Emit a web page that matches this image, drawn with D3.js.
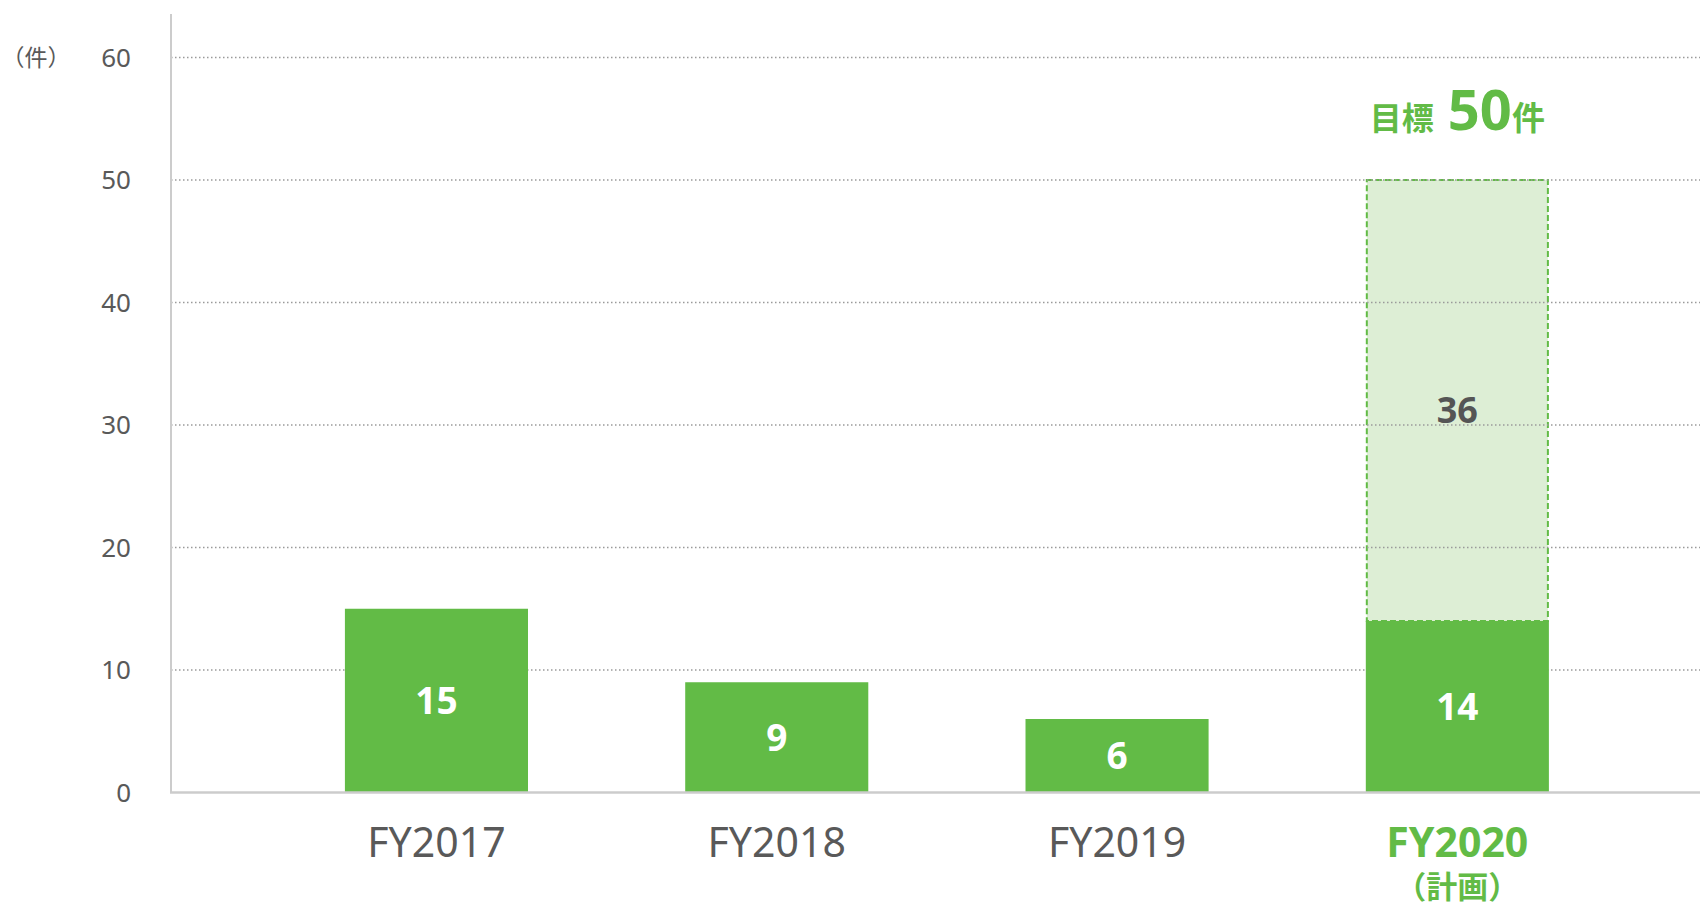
<!DOCTYPE html>
<html>
<head>
<meta charset="utf-8">
<script src="https://cdn.jsdelivr.net/npm/d3@7"></script>
<style>
body { margin: 0; background: #fff; }
text { font-family: "Noto Sans", "Noto Sans CJK JP", sans-serif; }
</style>
</head>
<body>
<script>
var CATEGORIES = ["FY2017", "FY2018", "FY2019", "FY2020"];
var ACTUAL = [15, 9, 6, 14];
var PLAN_REST = [0, 0, 0, 36];
var TARGET = 50;
var Y_TICKS = [0, 10, 20, 30, 40, 50, 60];

var W = 1700, H = 907;
var AXIS_X = 171;
var GREEN = "#62bb46";
var LIGHT = "#ddeed5";
var GREY_TXT = "#595959";

var svg = d3.select("body").append("svg")
    .attr("width", W)
    .attr("height", H);

var x = d3.scaleBand()
    .domain(CATEGORIES)
    .range([266.3, 1627.5])
    .paddingInner(0.462)
    .paddingOuter(0.231);

var y = d3.scaleLinear()
    .domain([0, 60])
    .range([792.5, 57.5]);

// target (plan) box, light fill with dashed outline
var planIdx = PLAN_REST.map(function(v, i) { return i; }).filter(function(i) { return PLAN_REST[i] > 0; });
svg.selectAll(".plan")
    .data(planIdx)
    .enter().append("rect")
    .attr("class", "plan")
    .attr("x", function(i) { return x(CATEGORIES[i]) + 1; })
    .attr("width", x.bandwidth() - 2)
    .attr("y", function(i) { return y(ACTUAL[i] + PLAN_REST[i]); })
    .attr("height", function(i) { return y(ACTUAL[i]) - y(ACTUAL[i] + PLAN_REST[i]); })
    .style("fill", LIGHT)
    .style("stroke", GREEN)
    .style("stroke-width", 2)
    .style("stroke-dasharray", "6,3");

// dotted gridlines
svg.selectAll(".grid")
    .data(Y_TICKS.filter(function(d) { return d > 0; }))
    .enter().append("line")
    .attr("class", "grid")
    .attr("x1", AXIS_X)
    .attr("x2", W)
    .attr("y1", function(d) { return y(d); })
    .attr("y2", function(d) { return y(d); })
    .style("stroke", "#9a9a9a")
    .style("stroke-width", 1.5)
    .style("stroke-dasharray", "1.5,2.5");

// actual bars
svg.selectAll(".bar")
    .data(ACTUAL)
    .enter().append("rect")
    .attr("class", "bar")
    .attr("x", function(d, i) { return x(CATEGORIES[i]); })
    .attr("width", x.bandwidth())
    .attr("y", function(d) { return y(d); })
    .attr("height", function(d) { return y(0) - y(d); })
    .style("fill", GREEN);

// axes lines
svg.append("line")
    .attr("x1", AXIS_X).attr("x2", AXIS_X)
    .attr("y1", 14).attr("y2", y(0))
    .style("stroke", "#cccccc").style("stroke-width", 2);
svg.append("line")
    .attr("x1", AXIS_X - 1).attr("x2", W)
    .attr("y1", y(0)).attr("y2", y(0))
    .style("stroke", "#cccccc").style("stroke-width", 2.5);

// y tick labels
svg.selectAll(".ytick")
    .data(Y_TICKS)
    .enter().append("text")
    .attr("class", "ytick")
    .attr("x", 131)
    .attr("y", function(d) { return y(d); })
    .attr("dy", "0.36em")
    .attr("text-anchor", "end")
    .style("font-size", "26px")
    .style("fill", GREY_TXT)
    .text(function(d) { return d; });

svg.append("text")
    .attr("x", 36).attr("y", y(60))
    .attr("dy", "0.36em")
    .attr("text-anchor", "middle")
    .style("font-size", "23px")
    .style("fill", GREY_TXT)
    .text("（件）");

// value labels inside bars
svg.selectAll(".val")
    .data(ACTUAL)
    .enter().append("text")
    .attr("class", "val")
    .attr("x", function(d, i) { return x(CATEGORIES[i]) + x.bandwidth() / 2; })
    .attr("y", function(d) { return (y(d) + y(0)) / 2; })
    .attr("dy", "0.36em")
    .attr("text-anchor", "middle")
    .style("font-size", "37px")
    .style("font-weight", "bold")
    .style("fill", "#fff")
    .text(function(d) { return d; });

svg.selectAll(".planval")
    .data(planIdx)
    .enter().append("text")
    .attr("class", "planval")
    .attr("x", function(i) { return x(CATEGORIES[i]) + x.bandwidth() / 2; })
    .attr("y", function(i) { return (y(ACTUAL[i]) + y(ACTUAL[i] + PLAN_REST[i])) / 2 + 10; })
    .attr("dy", "0.36em")
    .attr("text-anchor", "middle")
    .style("font-size", "36px")
    .style("font-weight", "bold")
    .style("fill", "#555")
    .text(function(i) { return PLAN_REST[i]; });

// target annotation
var tgt = svg.append("text")
    .attr("x", x("FY2020") + x.bandwidth() / 2)
    .attr("y", 130)
    .attr("text-anchor", "middle")
    .style("font-weight", "bold")
    .style("fill", GREEN);
tgt.append("tspan").style("font-size", "32px").text("目標");
tgt.append("tspan").attr("dx", 14).style("font-size", "56px").text(TARGET);
tgt.append("tspan").style("font-size", "33px").text("件");

// category labels
svg.selectAll(".cat")
    .data(CATEGORIES)
    .enter().append("text")
    .attr("class", "cat")
    .attr("x", function(d) { return x(d) + x.bandwidth() / 2; })
    .attr("y", 857)
    .attr("text-anchor", "middle")
    .style("font-size", "41px")
    .style("font-weight", function(d, i) { return i === 3 ? "bold" : "normal"; })
    .style("fill", function(d, i) { return i === 3 ? GREEN : GREY_TXT; })
    .text(function(d) { return d; });

svg.append("text")
    .attr("x", x("FY2020") + x.bandwidth() / 2)
    .attr("y", 898)
    .attr("text-anchor", "middle")
    .style("font-size", "31px")
    .style("font-weight", "bold")
    .style("fill", GREEN)
    .text("（計画）");
</script>
</body>
</html>
